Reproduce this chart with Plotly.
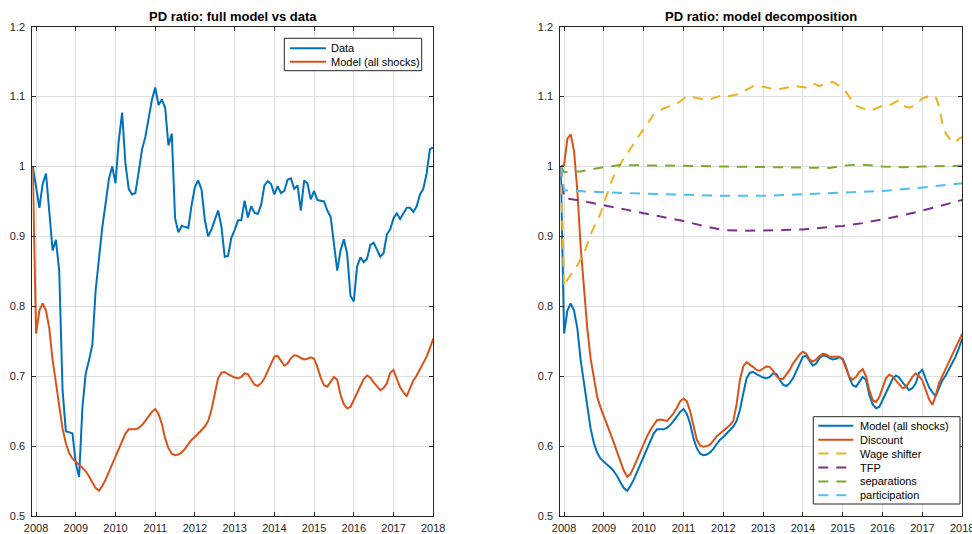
import pandas as pd
import plotly.graph_objects as go

W, H = 972, 534

# ---------------------------------------------------------------------------
# Data: monthly price-dividend ratios, Dec 2007 – Jan 2018 (normalised to 1)
# ---------------------------------------------------------------------------
months = pd.period_range("2007-12", "2018-01", freq="M")

data_pd = [
    1.000, 0.970, 0.941, 0.975, 0.990, 0.935, 0.880, 0.895, 0.850, 0.680,
    0.621, 0.620, 0.618, 0.575, 0.556, 0.655, 0.704, 0.723, 0.745, 0.823,
    0.870, 0.913, 0.947, 0.982, 1.000, 0.976, 1.038, 1.077, 1.004, 0.968,
    0.960, 0.962, 0.992, 1.024, 1.042, 1.071, 1.095, 1.113, 1.088, 1.096,
    1.084, 1.030, 1.047, 0.926, 0.906, 0.915, 0.914, 0.912, 0.945, 0.971,
    0.980, 0.967, 0.923, 0.900, 0.910, 0.923, 0.937, 0.914, 0.871, 0.872,
    0.898, 0.909, 0.923, 0.923, 0.951, 0.927, 0.943, 0.934, 0.932, 0.945,
    0.973, 0.979, 0.975, 0.960, 0.972, 0.962, 0.965, 0.981, 0.983, 0.968,
    0.973, 0.937, 0.980, 0.976, 0.953, 0.965, 0.952, 0.951, 0.950, 0.937,
    0.928, 0.890, 0.851, 0.880, 0.896, 0.875, 0.815, 0.807, 0.857, 0.870,
    0.863, 0.868, 0.888, 0.891, 0.880, 0.871, 0.876, 0.903, 0.910, 0.926,
    0.933, 0.925, 0.933, 0.941, 0.941, 0.935, 0.943, 0.960, 0.968, 0.990,
    1.025, 1.027,
]

model_all = [
    1.000, 0.761, 0.794, 0.804, 0.794, 0.768, 0.723, 0.690, 0.655, 0.625,
    0.604, 0.590, 0.582, 0.578, 0.574, 0.569, 0.564, 0.557, 0.548, 0.540,
    0.536, 0.543, 0.552, 0.563, 0.575, 0.587, 0.598, 0.609, 0.618, 0.624,
    0.624, 0.624, 0.626, 0.630, 0.636, 0.643, 0.649, 0.653, 0.646, 0.632,
    0.611, 0.597, 0.589, 0.587, 0.588, 0.591, 0.596, 0.603, 0.609, 0.613,
    0.618, 0.623, 0.628, 0.636, 0.652, 0.675, 0.697, 0.705, 0.706, 0.703,
    0.700, 0.698, 0.697, 0.699, 0.704, 0.703, 0.695, 0.688, 0.686, 0.690,
    0.697, 0.707, 0.719, 0.728, 0.729, 0.721, 0.715, 0.718, 0.726, 0.730,
    0.729, 0.726, 0.724, 0.725, 0.727, 0.725, 0.713, 0.698, 0.687, 0.685,
    0.693, 0.699, 0.695, 0.673, 0.660, 0.654, 0.656, 0.665, 0.676, 0.686,
    0.696, 0.701, 0.698, 0.691, 0.685, 0.680, 0.683, 0.690, 0.705, 0.709,
    0.696, 0.684, 0.677, 0.671, 0.683, 0.694, 0.701, 0.710, 0.720, 0.728,
    0.740, 0.754,
]

discount = [
    1.000, 1.002, 1.040, 1.046, 1.022, 0.965, 0.885, 0.825, 0.768, 0.725,
    0.694, 0.670, 0.655, 0.643, 0.630, 0.618, 0.605, 0.591, 0.578, 0.565,
    0.556, 0.560, 0.570, 0.581, 0.592, 0.604, 0.614, 0.623, 0.631, 0.637,
    0.638, 0.637, 0.636, 0.641, 0.647, 0.655, 0.664, 0.668, 0.664, 0.650,
    0.628, 0.609, 0.601, 0.599, 0.600, 0.602, 0.608, 0.614, 0.618, 0.622,
    0.626, 0.630, 0.636, 0.660, 0.695, 0.714, 0.720, 0.717, 0.713, 0.709,
    0.708, 0.711, 0.714, 0.713, 0.708, 0.700, 0.696, 0.696, 0.702, 0.709,
    0.718, 0.725, 0.731, 0.735, 0.732, 0.724, 0.721, 0.724, 0.729, 0.732,
    0.731, 0.728, 0.728, 0.728, 0.728, 0.723, 0.711, 0.699, 0.695, 0.699,
    0.706, 0.710, 0.700, 0.680, 0.666, 0.663, 0.670, 0.683, 0.697, 0.702,
    0.700, 0.694, 0.688, 0.683, 0.684, 0.691, 0.699, 0.704, 0.700, 0.694,
    0.680, 0.667, 0.659, 0.672, 0.690, 0.700, 0.709, 0.720, 0.730, 0.740,
    0.750, 0.761,
]

wage_shifter = [
    1.000, 0.828, 0.838, 0.845, 0.850, 0.858, 0.866, 0.876, 0.889, 0.903,
    0.913, 0.922, 0.933, 0.947, 0.962, 0.975, 0.987, 0.996, 1.004, 1.012,
    1.018, 1.026, 1.033, 1.040, 1.047, 1.054, 1.060, 1.067, 1.074, 1.078,
    1.081, 1.083, 1.085, 1.086, 1.088, 1.090, 1.093, 1.096, 1.100, 1.100,
    1.099, 1.097, 1.096, 1.095, 1.095, 1.096, 1.098, 1.100, 1.101, 1.101,
    1.100, 1.101, 1.102, 1.103, 1.104, 1.107, 1.110, 1.113, 1.115, 1.116,
    1.115, 1.114, 1.112, 1.111, 1.110, 1.110, 1.111, 1.112, 1.113, 1.114,
    1.115, 1.115, 1.114, 1.113, 1.113, 1.116, 1.119, 1.117, 1.115, 1.117,
    1.119, 1.120, 1.121, 1.118, 1.115, 1.112, 1.106, 1.100, 1.094, 1.087,
    1.085, 1.083, 1.081, 1.080, 1.081, 1.083, 1.085, 1.087, 1.087, 1.087,
    1.090, 1.093, 1.095, 1.090, 1.085, 1.084, 1.086, 1.090, 1.094, 1.097,
    1.099, 1.101, 1.102, 1.100, 1.086, 1.062, 1.048, 1.041, 1.035, 1.034,
    1.040, 1.042,
]

# Slow-moving components, read at selected months
tfp_months = ["2007-12", "2008-01", "2008-06", "2009-01", "2009-07", "2010-01",
              "2010-07", "2011-01", "2011-07", "2012-01", "2012-07", "2013-01",
              "2013-07", "2014-01", "2014-07", "2015-01", "2015-07", "2016-01",
              "2016-07", "2017-01", "2017-07", "2018-01"]
tfp = [1.000, 0.955, 0.951, 0.945, 0.939, 0.933, 0.928, 0.922, 0.915, 0.909,
       0.908, 0.908, 0.909, 0.910, 0.912, 0.915, 0.919, 0.924, 0.930, 0.937,
       0.944, 0.952]

sep_months = ["2007-12", "2008-01", "2008-06", "2009-01", "2009-06", "2010-01",
              "2011-01", "2012-01", "2013-01", "2014-01", "2014-09", "2015-01",
              "2015-06", "2016-01", "2016-07", "2017-01", "2018-01"]
separations = [1.000, 0.992, 0.993, 0.999, 1.002, 1.002, 1.001, 1.000, 0.9995,
               0.999, 0.998, 1.001, 1.003, 1.000, 0.999, 1.000, 1.001]

part_months = ["2007-12", "2008-01", "2009-01", "2010-01", "2011-01", "2012-01",
               "2013-01", "2014-01", "2015-01", "2016-01", "2017-01", "2018-01"]
participation = [1.000, 0.966, 0.963, 0.961, 0.959, 0.958, 0.958, 0.960,
                 0.962, 0.965, 0.970, 0.976]

year_ticks = list(range(2008, 2019))
year_labels = [str(y) for y in year_ticks]
y_ticks = [0.5, 0.6, 0.7, 0.8, 0.9, 1.0, 1.1, 1.2]
y_labels = ["0.5", "0.6", "0.7", "0.8", "0.9", "1", "1.1", "1.2"]

BLUE, ORANGE, YELLOW = "#0072BD", "#D95319", "#EDB120"
PURPLE, GREEN, CYAN = "#7E2F8E", "#77AC30", "#4DBEEE"
AX_COL = "#262626"
GRID_COL = "#dfdfdf"
FONT = "Liberation Sans, Arial, Helvetica, sans-serif"
DASH = "10px,8px"
LW = 2


def to_year(periods):
    p = pd.PeriodIndex(periods, freq="M")
    return list(p.year + (p.month - 1) / 12.0)


t = to_year(months)

left_series = [
    ("Data", t, data_pd, BLUE, "solid"),
    ("Model (all shocks)", t, model_all, ORANGE, "solid"),
]
right_series = [
    ("Model (all shocks)", t, model_all, BLUE, "solid"),
    ("Discount", t, discount, ORANGE, "solid"),
    ("Wage shifter", t, wage_shifter, YELLOW, DASH),
    ("TFP", to_year(tfp_months), tfp, PURPLE, DASH),
    ("separations", to_year(sep_months), separations, GREEN, DASH),
    ("participation", to_year(part_months), participation, CYAN, DASH),
]

fig = go.Figure()
for name, x, y, col, dash in left_series:
    fig.add_trace(go.Scatter(x=x, y=y, name=name, mode="lines",
                             line=dict(color=col, width=LW, dash=dash),
                             xaxis="x", yaxis="y", showlegend=False))
for name, x, y, col, dash in right_series:
    fig.add_trace(go.Scatter(x=x, y=y, name=name, mode="lines",
                             line=dict(color=col, width=LW, dash=dash),
                             xaxis="x2", yaxis="y2", showlegend=False))


def px(xp, yp):
    """Pixel position -> paper fraction."""
    return xp / W, 1 - yp / H


y_dom = [1 - 516 / H, 1 - 26.7 / H]
left_dom = [32.3 / W, 433.3 / W]
right_dom = [560.3 / W, 962.3 / W]
x_range = [2007.905, 2018.002]

common = dict(showline=True, linecolor=AX_COL, linewidth=1, mirror="ticks",
              ticks="inside", ticklen=4, tickwidth=1, tickcolor=AX_COL,
              showgrid=True, gridcolor=GRID_COL, gridwidth=1, zeroline=False,
              tickfont=dict(family=FONT, size=11, color=AX_COL),
              automargin=False, fixedrange=True, ticklabeloverflow="allow")
xcommon = dict(common, range=x_range, tickmode="array", tickvals=year_ticks,
               ticktext=year_labels, ticklabelstandoff=2)
ycommon = dict(common, range=[0.5, 1.2], tickmode="array", tickvals=y_ticks,
               ticktext=y_labels, ticklabelstandoff=4)

fig.update_layout(
    width=W, height=H,
    margin=dict(l=0, r=0, t=0, b=0),
    paper_bgcolor="white", plot_bgcolor="white",
    font=dict(family=FONT, size=11, color=AX_COL),
    showlegend=False,
    xaxis=dict(xcommon, domain=left_dom, anchor="y"),
    yaxis=dict(ycommon, domain=y_dom, anchor="x"),
    xaxis2=dict(xcommon, domain=right_dom, anchor="y2"),
    yaxis2=dict(ycommon, domain=y_dom, anchor="x2"),
)

# Panel titles
titles = ["PD ratio: full model vs data", "PD ratio: model decomposition"]
for dom, txt in zip([left_dom, right_dom], titles):
    fig.add_annotation(x=(dom[0] + dom[1]) / 2, y=px(0, 16.5)[1], xref="paper",
                       yref="paper", text="<b>" + txt + "</b>", showarrow=False,
                       xanchor="center", yanchor="middle",
                       font=dict(family=FONT, size=13, color="#000000"))


def draw_legend(series, box, row0, row_step, line_x, text_x):
    x0, y0, x1, y1 = box
    a, b = px(x0, y0)
    c, d = px(x1, y1)
    fig.add_shape(type="rect", xref="paper", yref="paper", x0=a, y0=d, x1=c,
                  y1=b, line=dict(color=AX_COL, width=1), fillcolor="white",
                  layer="above")
    for i, (name, _, _, col, dash) in enumerate(series):
        yy = row0 + i * row_step
        la, lb = px(line_x[0], yy)
        lc, _ = px(line_x[1], yy)
        fig.add_shape(type="line", xref="paper", yref="paper", x0=la, y0=lb,
                      x1=lc, y1=lb, line=dict(color=col, width=LW, dash=dash),
                      layer="above")
        tx, ty = px(text_x, yy)
        fig.add_annotation(x=tx, y=ty, xref="paper", yref="paper", text=name,
                           showarrow=False, xanchor="left", yanchor="middle",
                           font=dict(family=FONT, size=11, color="#000000"))


draw_legend(left_series, (284.3, 38.3, 421.7, 70.7), 48.3, 13.4,
            (290.0, 326.0), 328.5)
draw_legend(right_series, (813.3, 416.7, 960.0, 504.0), 425.8, 13.9,
            (818.3, 853.3), 857.5)

fig.write_html("out.html")
